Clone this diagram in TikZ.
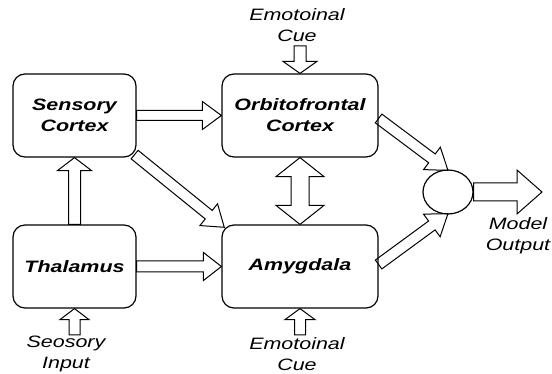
\documentclass[tikz,border=0pt]{standalone}
\usepackage{fontspec}
\setmainfont{Liberation Sans}[FakeStretch=1.3]
\usetikzlibrary{calc,shapes.geometric}
\newcommand\lbltxt{\fontsize{16.5}{21}\selectfont}
\tikzset{
  box/.style={draw, line width=1.2pt, rounded corners=12pt, inner sep=0pt,
    font=\lbltxt\bfseries\itshape, align=center},
  lbl/.style={font=\lbltxt\itshape, align=center, inner sep=0pt},
  blk/.style={draw, line width=1pt, line join=miter},
}
% block arrow: from, to, shaft half width, head half width, head length
\newcommand\barrow[5]{%
  \path let \p1=(#1), \p2=(#2) in \pgfextra{%
    \pgfmathsetmacro\baang{atan2(\y2-\y1,\x2-\x1)}%
    \pgfmathsetmacro\balen{veclen(\x2-\x1,\y2-\y1)}%
    \xdef\baang{\baang}\xdef\balen{\balen}%
    \xdef\bax{\x1}\xdef\bay{\y1}};
  \draw[blk, shift={(\bax,\bay)}, rotate=\baang]
    (0pt,-#3pt) -- ({\balen pt-#5pt},-#3pt) -- ({\balen pt-#5pt},-#4pt)
    -- (\balen pt,0pt) -- ({\balen pt-#5pt},#4pt) -- ({\balen pt-#5pt},#3pt)
    -- (0pt,#3pt) -- cycle;
}
% double-headed block arrow
\newcommand\dbarrow[5]{%
  \path let \p1=(#1), \p2=(#2) in \pgfextra{%
    \pgfmathsetmacro\baang{atan2(\y2-\y1,\x2-\x1)}%
    \pgfmathsetmacro\balen{veclen(\x2-\x1,\y2-\y1)}%
    \xdef\baang{\baang}\xdef\balen{\balen}%
    \xdef\bax{\x1}\xdef\bay{\y1}};
  \draw[blk, shift={(\bax,\bay)}, rotate=\baang]
    (0pt,0pt) -- (#5pt,#4pt) -- (#5pt,#3pt) -- ({\balen pt-#5pt},#3pt)
    -- ({\balen pt-#5pt},#4pt) -- (\balen pt,0pt) -- ({\balen pt-#5pt},-#4pt)
    -- ({\balen pt-#5pt},-#3pt) -- (#5pt,-#3pt) -- (#5pt,-#4pt) -- cycle;
}
\begin{document}
\begin{tikzpicture}[x=1pt,y=-1pt]
\useasboundingbox (0,0) rectangle (552,374);
% boxes
\node[box, minimum width=123pt, minimum height=83pt] (sc) at (74.5,115.5) {Sensory\\Cortex};
\node[box, minimum width=156pt, minimum height=83pt] (orb) at (300,115.5) {Orbitofrontal\\Cortex};
\node[box, minimum width=123pt, minimum height=83pt] (th) at (74.5,266.5) {Thalamus};
\node[box, minimum width=156pt, minimum height=83pt] (am) at (300,266.5) {Amygdala};
\node[draw, line width=1.2pt, ellipse, inner sep=0pt, minimum width=50pt, minimum height=44pt] (sum) at (448,192) {};
% labels
\node[lbl] (cuetxt1) at (297,25) {Emotoinal\\Cue};
\node[lbl] (cuetxt2) at (297,354) {Emotoinal\\Cue};
\node[lbl] (intxt) at (66,354) {Seosory\\Input};
\node[lbl] (outtxt) at (518,236) {Model\\Output};
% free ends
\coordinate (cuetop) at (300,46);
\coordinate (cuebot) at (300,335);
\coordinate (inbot) at (74.5,335);
\coordinate (outend) at (542,192);
% arrows
\barrow{sc.east}{orb.west}{5}{14}{19}
\barrow{th.east}{am.west}{5.5}{14}{18}
\barrow{th.north}{sc.south}{6}{17}{13}
\barrow{$(sc.south east)+(-2,-3)$}{$(am.north west)+(3,3)$}{5.5}{14}{20}
\barrow{$(orb.east)+(0,3)$}{$(sum.north)+(0,1)$}{5.5}{14}{20}
\barrow{$(am.east)+(0,-2)$}{$(sum.south)+(0,-1)$}{5.5}{14}{20}
\barrow{sum.east}{outend}{9}{22}{25}
\barrow{cuetop}{orb.north}{6}{17}{12}
\barrow{cuebot}{am.south}{5.5}{15}{11}
\barrow{inbot}{th.south}{5.5}{14.5}{11}
\dbarrow{orb.south}{am.north}{9}{24}{19}
\end{tikzpicture}
\end{document}
